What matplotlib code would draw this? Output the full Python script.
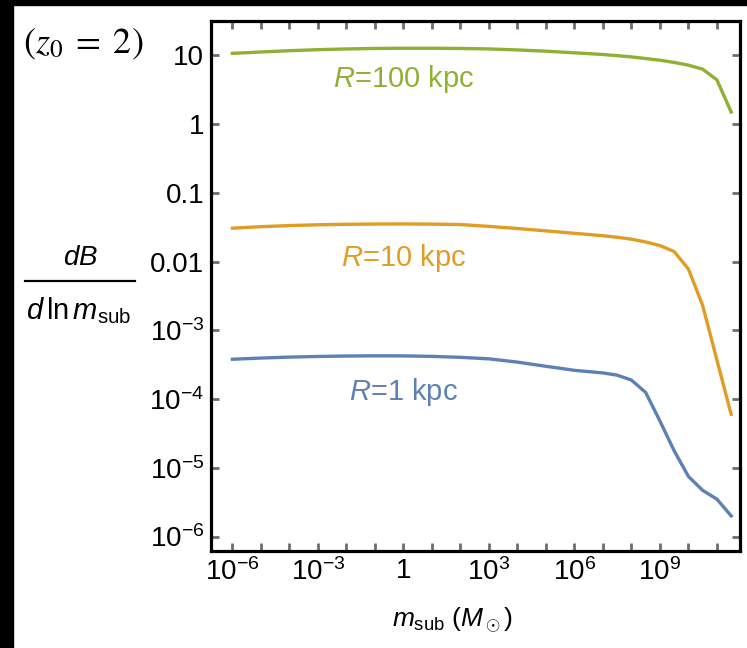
import numpy as np
import matplotlib
matplotlib.use("Agg")
import matplotlib.pyplot as plt
from matplotlib.patches import Rectangle
from matplotlib.lines import Line2D

plt.rcParams['font.family'] = ['Liberation Sans', 'DejaVu Sans']
plt.rcParams['mathtext.fontset'] = 'custom'
plt.rcParams['mathtext.rm'] = 'Liberation Sans'
plt.rcParams['mathtext.it'] = 'Liberation Sans:italic'
plt.rcParams['mathtext.bf'] = 'Liberation Sans:bold'

# subhalo mass grid (log10 of m_sub in solar masses)
log_m = [-6, -5, -4, -3, -2, -1, 0, 1, 2, 3, 4, 5, 6, 7, 7.5, 8, 8.5, 9, 9.5, 10, 10.5, 11, 11.5]

# dB / dln m_sub for three radii
dB_100kpc = [10.7, 11.2, 11.7, 12.1, 12.4, 12.6, 12.7, 12.7, 12.6, 12.4, 12.0, 11.5, 10.9,
             10.3, 9.9, 9.5, 9.0, 8.5, 7.9, 7.2, 6.3, 4.4, 1.5]
dB_10kpc = [0.0306, 0.0322, 0.0334, 0.0343, 0.0349, 0.0352, 0.0353, 0.0351, 0.0346, 0.0325,
            0.0303, 0.0280, 0.0258, 0.0238, 0.0226, 0.0212, 0.0193, 0.0171, 0.0140, 0.0078,
            0.0023, 3.7e-4, 6.0e-5]
dB_1kpc = [3.8e-4, 3.95e-4, 4.08e-4, 4.17e-4, 4.23e-4, 4.26e-4, 4.25e-4, 4.18e-4, 4.05e-4,
           3.85e-4, 3.45e-4, 3.0e-4, 2.62e-4, 2.4e-4, 2.23e-4, 1.89e-4, 1.25e-4, 4.8e-5,
           1.77e-5, 7.5e-6, 4.7e-6, 3.5e-6, 2.0e-6]

labels = ["R=1 kpc", "R=10 kpc", "R=100 kpc"]
label_y = [1.25e-4, 0.0112, 4.55]
colors = ["#5E81B5", "#E19C24", "#8FB032"]

x_ticks = [10.0**k for k in range(-6, 12)]
x_ticklabels = ["$10^{-6}$", "", "", "$10^{-3}$", "", "", "1", "", "", "$10^3$", "", "",
                "$10^6$", "", "", "$10^9$", "", ""]
y_ticks = [10.0**k for k in range(-6, 2)]
y_ticklabels = ["$10^{-6}$", "$10^{-5}$", "$10^{-4}$", "$10^{-3}$", "0.01", "0.1", "1", "10"]

m = 10.0 ** np.array(log_m)

fig = plt.figure(figsize=(7.47, 6.48), dpi=100)
ax = fig.add_axes([211 / 747, 1 - 551 / 648, 529 / 747, 530 / 648])

for ys, lab, ly, c in zip([dB_1kpc, dB_10kpc, dB_100kpc], labels, label_y, colors):
    ax.plot(m, ys, color=c, lw=2.4, solid_joinstyle='round')
    name, rest = lab.split("=")
    ax.text(1.0, ly, "$" + name + "$=" + rest, color=c, fontsize=21,
            ha='center', va='center')

ax.set_xscale('log')
ax.set_yscale('log')
ax.set_xlim(10**-6.75, 10**11.81)
ax.set_ylim(10**-6.21, 10**1.5)

ax.set_xticks(x_ticks)
ax.set_xticklabels(x_ticklabels)
ax.set_yticks(y_ticks)
ax.set_yticklabels(y_ticklabels)
ax.minorticks_off()
ax.tick_params(which='major', direction='in', length=6, width=2, color='#6e6e6e',
               top=True, right=True, labelsize=20, pad=5)

for sp in ax.spines.values():
    sp.set_linewidth(2.3)
    sp.set_color('black')

# y label as a stacked fraction
fig.text(80 / 747, 1 - 258 / 648, "$dB$", fontsize=20, ha='center', va='center')
fig.add_artist(Line2D([25 / 747, 135 / 747], [1 - 281 / 648, 1 - 281 / 648],
                      transform=fig.transFigure, color='black', lw=1.6))
fig.text(79 / 747, 1 - 311 / 648, r"$d\,\mathrm{ln}\,m_\mathrm{sub}$", fontsize=21,
         ha='center', va='center')

fig.text(452 / 747, 1 - 620 / 648, r"$m_\mathrm{sub}$ ($M_\odot$)", fontsize=19,
         ha='center', va='center')

fig.text(23 / 747, 1 - 44 / 648, r"$(z_0\;=\;2)$", fontsize=26, math_fontfamily='stix',
         ha='left', va='center')

# black screenshot edges
fig.patches.append(Rectangle((0, 0), 13 / 747, 1, transform=fig.transFigure,
                             color='black', zorder=-1))
fig.patches.append(Rectangle((0, 1 - 5 / 648), 1, 5 / 648, transform=fig.transFigure,
                             color='black', zorder=-1))

fig.savefig("out.png", dpi=100)
